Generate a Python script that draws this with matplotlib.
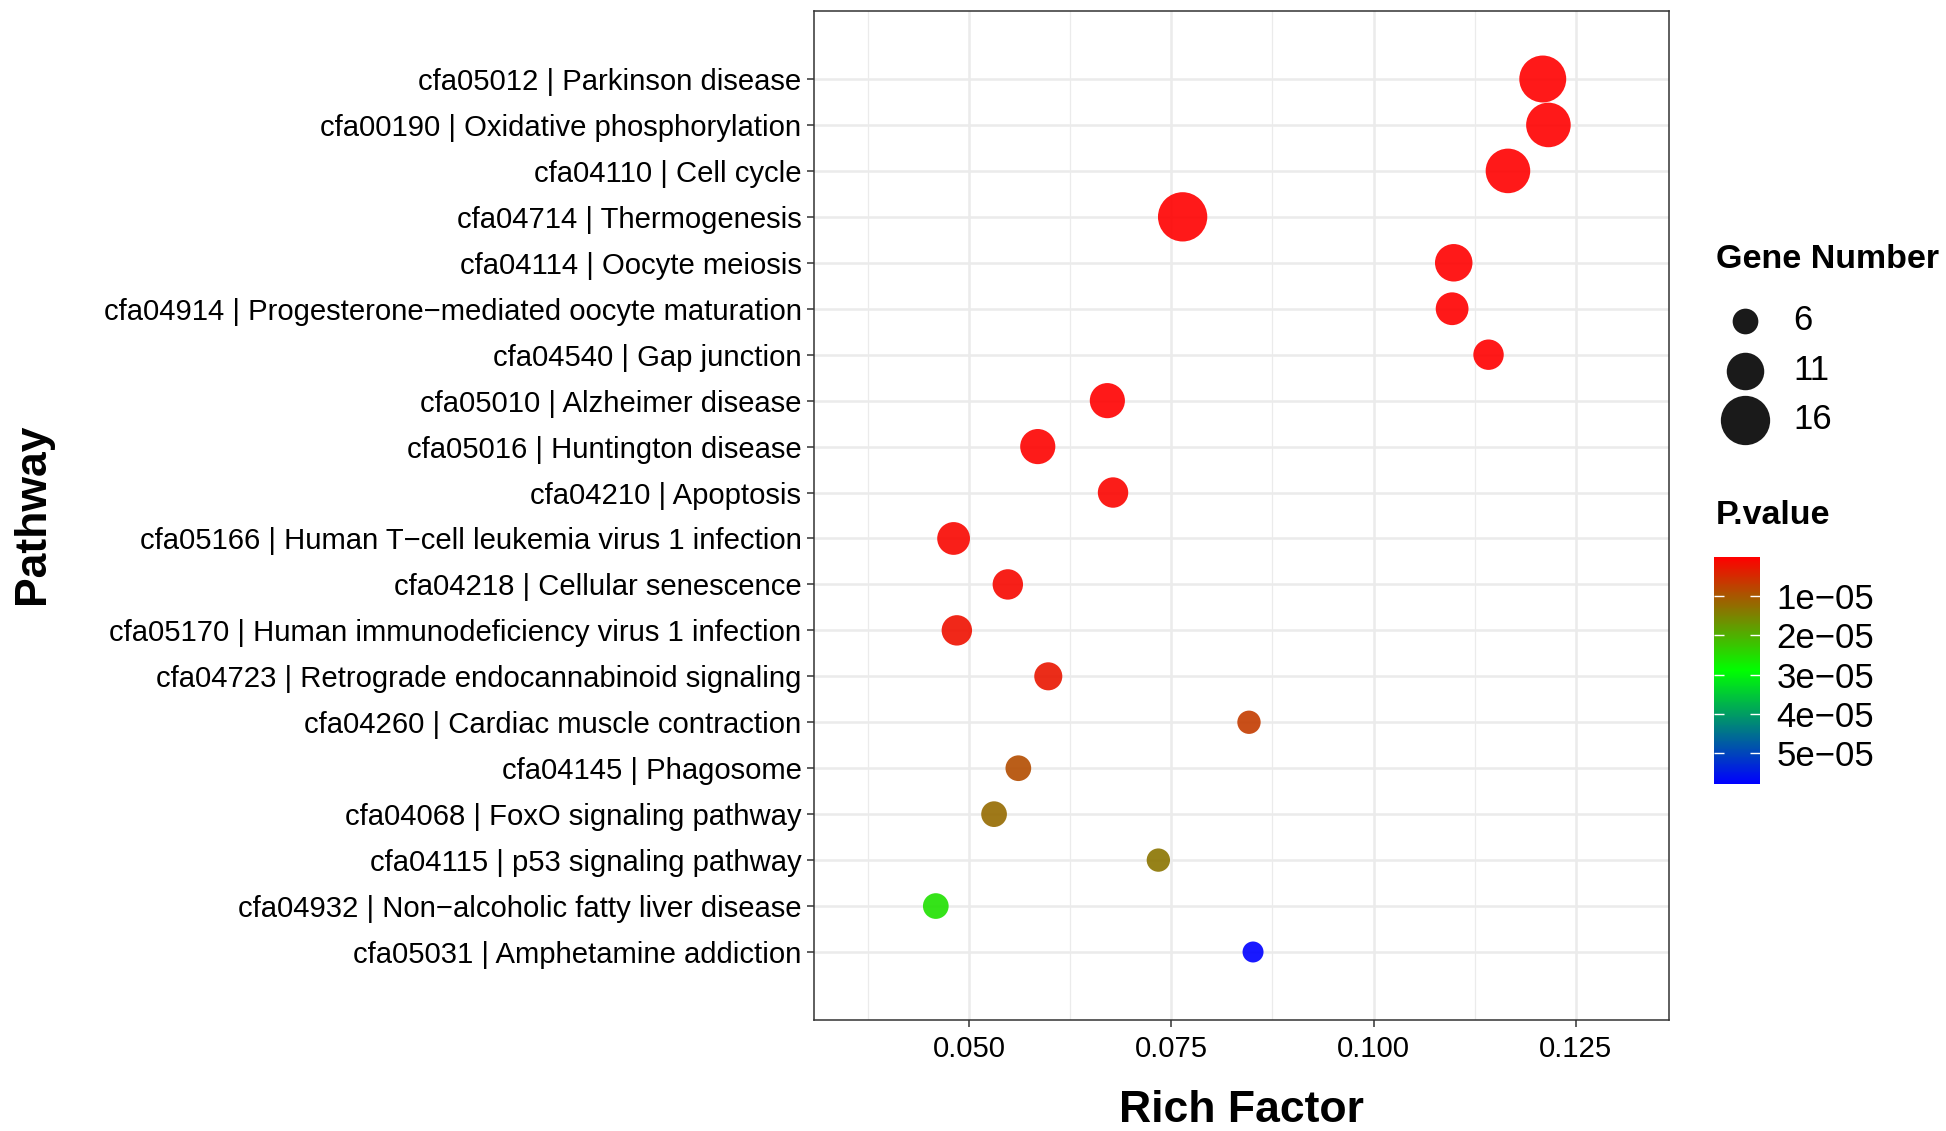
import numpy as np
import matplotlib
matplotlib.use("Agg")
import matplotlib.pyplot as plt
from matplotlib.colors import LinearSegmentedColormap, Normalize
from matplotlib.ticker import MultipleLocator

# KEGG pathways, top to bottom as shown
pathways = [
    "cfa05012 | Parkinson disease",
    "cfa00190 | Oxidative phosphorylation",
    "cfa04110 | Cell cycle",
    "cfa04714 | Thermogenesis",
    "cfa04114 | Oocyte meiosis",
    "cfa04914 | Progesterone\u2212mediated oocyte maturation",
    "cfa04540 | Gap junction",
    "cfa05010 | Alzheimer disease",
    "cfa05016 | Huntington disease",
    "cfa04210 | Apoptosis",
    "cfa05166 | Human T\u2212cell leukemia virus 1 infection",
    "cfa04218 | Cellular senescence",
    "cfa05170 | Human immunodeficiency virus 1 infection",
    "cfa04723 | Retrograde endocannabinoid signaling",
    "cfa04260 | Cardiac muscle contraction",
    "cfa04145 | Phagosome",
    "cfa04068 | FoxO signaling pathway",
    "cfa04115 | p53 signaling pathway",
    "cfa04932 | Non\u2212alcoholic fatty liver disease",
    "cfa05031 | Amphetamine addiction",
]
rich_factor = [0.1209, 0.1216, 0.1166, 0.0764, 0.1099, 0.1097, 0.1142, 0.0671, 0.0585, 0.0678,
               0.0481, 0.0548, 0.0485, 0.0598, 0.0846, 0.0561, 0.0531, 0.0734, 0.0459, 0.0851]
gene_number = [15, 14, 14, 16, 11, 9, 8, 10, 10, 8, 9, 8, 8, 7, 5, 6, 6, 5, 6, 4]
p_value = [1.3e-10, 2.1e-10, 4.6e-10, 6.7e-09, 9.2e-09, 5.4e-08, 1.1e-07, 1.6e-07, 3.3e-07, 4.8e-07,
           6.9e-07, 1.05e-06, 2.0e-06, 2.5e-06, 7.0e-06, 8.7e-06, 1.2e-05, 1.33e-05, 2.55e-05, 5.79e-05]

size_breaks = [6, 11, 16]
pvalue_breaks = [1e-05, 2e-05, 3e-05, 4e-05, 5e-05]

DPI = 100
W, H = 1946, 1131
FONT = "Liberation Sans"
plt.rcParams["font.family"] = [FONT, "DejaVu Sans"]


def marker_area(genes):
    # diameter grows linearly with gene count (px), converted to points^2
    d_px = 25.7 + 2.36 * (np.asarray(genes, dtype=float) - 6)
    return (d_px * 72.0 / DPI) ** 2


def fx(px):
    return px / W


def fy(py):
    return 1 - py / H


fig = plt.figure(figsize=(W / DPI, H / DPI), dpi=DPI)
ax = fig.add_axes([fx(814), fy(1020), 855 / W, 1009 / H])

cmap = LinearSegmentedColormap.from_list("pv", ["#FF0000", "#00FF00", "#0000FF"])
norm = Normalize(vmin=min(p_value), vmax=max(p_value))

ypos = np.arange(len(pathways))[::-1]
sc = ax.scatter(rich_factor, ypos, s=marker_area(gene_number), c=p_value, cmap=cmap, norm=norm,
                alpha=0.9, linewidths=0, zorder=3)

ax.set_xlim(0.03085, 0.1365)
ax.set_ylim(-1.48, len(pathways) - 1 + 1.48)
ax.xaxis.set_minor_locator(MultipleLocator(0.0125))
ax.set_xticks([0.050, 0.075, 0.100, 0.125])
ax.set_xticklabels(["0.050", "0.075", "0.100", "0.125"])
ax.set_yticks(ypos)
ax.set_yticklabels(pathways)

ax.grid(True, which="major", color="#EBEBEB", linewidth=1.8, zorder=0)
ax.grid(True, which="minor", axis="x", color="#EBEBEB", linewidth=0.9, zorder=0)
ax.set_axisbelow(True)
for sp in ax.spines.values():
    sp.set_color("#333333")
    sp.set_linewidth(1.1)
ax.tick_params(axis="both", which="major", length=5, width=1.1, color="#333333",
               labelsize=21.1, labelcolor="black", pad=4)
ax.tick_params(axis="x", which="major", pad=6)
ax.tick_params(axis="x", which="minor", length=0)

fig.text(fx(1241), 0.0, "Rich Factor", fontsize=32, fontweight="bold",
         ha="center", va="bottom")
fig.text(fx(33), fy(514), "Pathway", fontsize=32, fontweight="bold",
         rotation=90, ha="center", va="center")

# size legend
fig.text(fx(1716), fy(259), "Gene Number", fontsize=24.5, fontweight="bold", va="center")
handles = [plt.scatter([], [], s=marker_area(g), color="#1A1A1A", linewidths=0) for g in size_breaks]
leg = fig.legend(handles, [str(g) for g in size_breaks],
                 loc="upper left", bbox_to_anchor=(fx(1716), fy(304)),
                 frameon=False, fontsize=25, handlelength=1.67, handletextpad=0.55,
                 labelspacing=0.48, borderpad=0, borderaxespad=0)

# colour bar
fig.text(fx(1716), fy(516), "P.value", fontsize=24.5, fontweight="bold", va="center")
cax = fig.add_axes([fx(1714), fy(784), 46 / W, 227 / H])
cb = fig.colorbar(sc, cax=cax)
cb.solids.set_alpha(1)
cb.outline.set_visible(False)
cax.invert_yaxis()
cb.set_ticks(pvalue_breaks)
cb.set_ticklabels([f"{b:.0e}".replace("-", "\u2212") for b in pvalue_breaks])
cax.tick_params(direction="in", length=7, width=1, color="white", left=True, right=True,
                labelsize=25, pad=12)

fig.savefig("out.png", dpi=DPI)
